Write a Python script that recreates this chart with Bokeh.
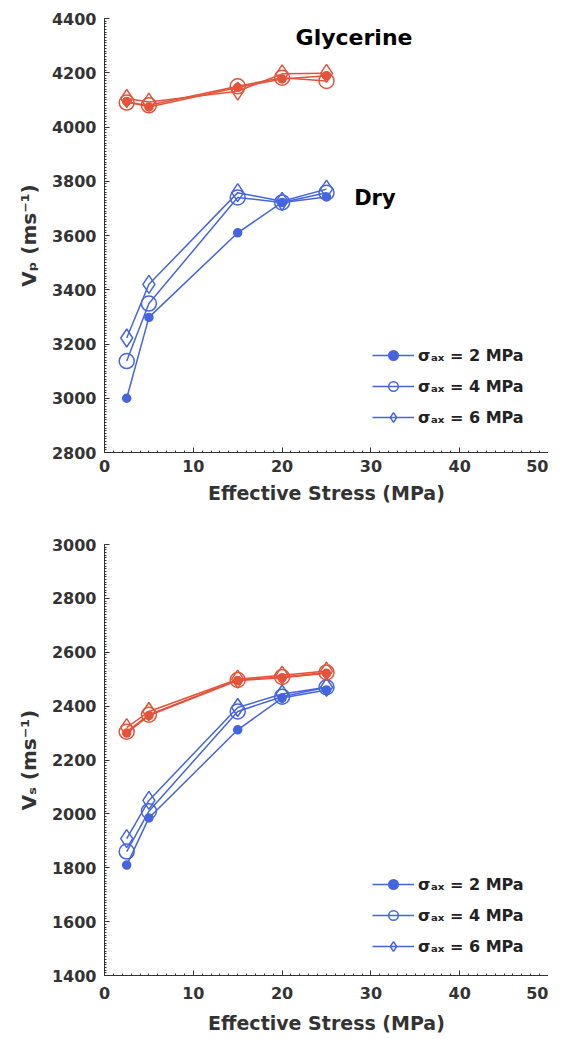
from bokeh.plotting import figure
from bokeh.models import Legend, LegendItem, Label, Range1d
from bokeh.layouts import column
from bokeh.embed import file_html
from bokeh.resources import INLINE

# ---- data ----
stress = [2.5, 5, 15, 20, 25]

vp_dry_2 = [3000, 3298, 3610, 3722, 3742]
vp_dry_4 = [3137, 3349, 3740, 3722, 3758]
vp_dry_6 = [3222, 3420, 3758, 3726, 3771]
vp_gly_2 = [4094, 4074, 4146, 4177, 4189]
vp_gly_4 = [4090, 4080, 4150, 4182, 4170]
vp_gly_6 = [4105, 4092, 4132, 4196, 4198]

vs_dry_2 = [1810, 1985, 2312, 2430, 2460]
vs_dry_4 = [1860, 2010, 2380, 2435, 2470]
vs_dry_6 = [1908, 2050, 2395, 2445, 2470]
vs_gly_2 = [2300, 2365, 2495, 2505, 2522]
vs_gly_4 = [2305, 2368, 2497, 2508, 2525]
vs_gly_6 = [2320, 2380, 2500, 2515, 2530]

legend_labels = ["σₐₓ = 2 MPa", "σₐₓ = 4 MPa", "σₐₓ = 6 MPa"]

BLUE = "#4565e0"
RED = "#e4533a"
FONT = "DejaVu Sans"
AX = "#333333"


def make_fig(height, ylo, yhi, ylabel, top_border, bottom_border, tick_sf, label_sf):
    p = figure(width=548, height=height, output_backend="svg", toolbar_location=None,
               x_range=Range1d(0, 50), y_range=Range1d(ylo, yhi),
               min_border_left=104, min_border_right=0, min_border_top=top_border,
               min_border_bottom=bottom_border)
    p.outline_line_color = None
    p.xgrid.visible = False
    p.ygrid.visible = False
    p.background_fill_color = "white"
    p.xaxis.ticker.desired_num_ticks = 6
    p.xaxis.ticker.num_minor_ticks = 10
    p.yaxis.ticker.desired_num_ticks = 9
    p.yaxis.ticker.num_minor_ticks = 20
    for ax in (p.xaxis, p.yaxis):
        ax.major_tick_in = 5
        ax.major_tick_out = 0
        ax.minor_tick_in = 2
        ax.minor_tick_out = 0
        ax.axis_line_color = AX
        ax.major_tick_line_color = AX
        ax.minor_tick_line_color = AX
        ax.major_label_text_font = FONT
        ax.major_label_text_font_size = "16px"
        ax.major_label_text_font_style = "bold"
        ax.major_label_text_color = AX
        ax.axis_label_text_font = FONT
        ax.axis_label_text_font_size = "19px"
        ax.axis_label_text_font_style = "bold"
        ax.axis_label_text_color = AX
    p.yaxis.axis_label_text_font_size = "20px"
    p.xaxis.axis_label = "Effective Stress (MPa)"
    p.xaxis.major_label_standoff = tick_sf
    p.xaxis.axis_label_standoff = label_sf
    p.yaxis.axis_label = ylabel
    p.yaxis.axis_label_standoff = 8
    p.yaxis.major_label_standoff = 8
    return p


def add_series(p, ys, color, kind):
    r_line = p.line(stress, ys, line_color=color, line_width=1.5)
    if kind == 0:
        r_m = p.scatter(stress, ys, marker="circle", size=8, fill_color=color,
                        line_color=color, line_width=1.5)
    elif kind == 1:
        r_m = p.scatter(stress, ys, marker="circle", size=15, fill_color=None,
                        line_color=color, line_width=1.5)
    else:
        r_m = p.scatter(stress, ys, marker="diamond", size=18, fill_color=None,
                        line_color=color, line_width=1.5)
    return [r_line, r_m]


def build(p, dry, gly, leg_y):
    items = []
    for k, ys in enumerate(dry):
        rs = add_series(p, ys, BLUE, k)
        items.append(LegendItem(label=legend_labels[k], renderers=rs))
    for k, ys in enumerate(gly):
        add_series(p, ys, RED, k)
    leg = Legend(items=items, location=(268, leg_y), glyph_width=42, glyph_height=24,
                 label_standoff=4, spacing=7, padding=4,
                 label_text_font=FONT, label_text_font_size="16px",
                 label_text_font_style="bold", label_text_color="#222222",
                 border_line_color=None, background_fill_alpha=0)
    p.add_layout(leg)


p1 = make_fig(527, 2800, 4400, "Vₚ (ms⁻¹)", 18, 75, 7, 7)
build(p1, [vp_dry_2, vp_dry_4, vp_dry_6], [vp_gly_2, vp_gly_4, vp_gly_6], 23)
p1.add_layout(Label(x=28.1, y=4330, text="Glycerine", text_font=FONT,
                    text_font_size="22px", text_font_style="bold", text_color="black",
                    text_align="center", text_baseline="middle"))
p1.add_layout(Label(x=30.45, y=3738, text="Dry", text_font=FONT,
                    text_font_size="21px", text_font_style="bold", text_color="black",
                    text_align="center", text_baseline="middle"))

p2 = make_fig(509, 1400, 3000, "Vₛ (ms⁻¹)", 17, 54, 11, 10)
build(p2, [vs_dry_2, vs_dry_4, vs_dry_6], [vs_gly_2, vs_gly_4, vs_gly_6], 17)

layout = column(p1, p2, spacing=0)
open("out.html", "w").write(file_html(layout, INLINE))
